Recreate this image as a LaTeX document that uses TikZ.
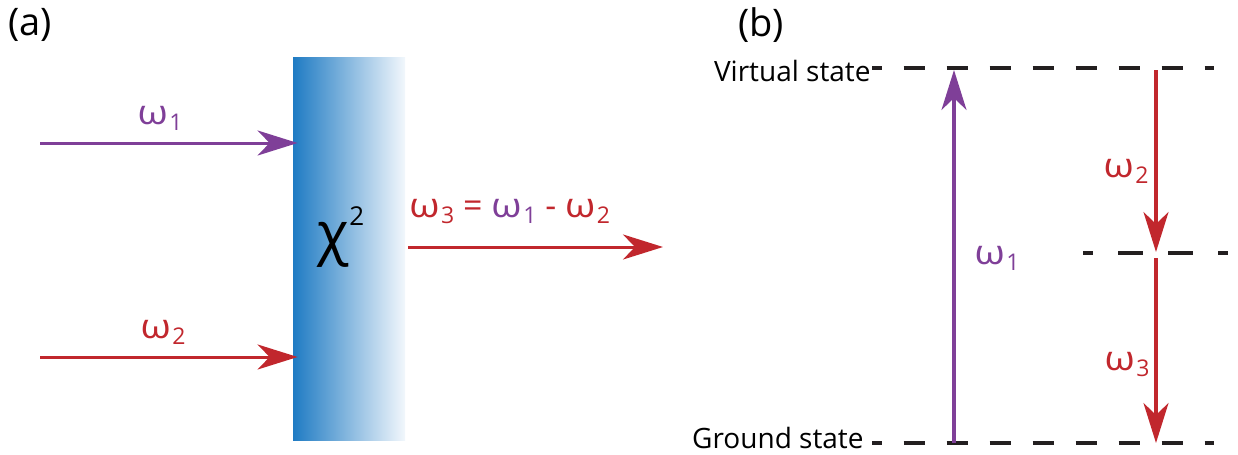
\documentclass[tikz,border=0pt]{standalone}
\usepackage{fontspec}
\setmainfont{Open Sans}
\usetikzlibrary{arrows.meta, positioning, calc}
\definecolor{pumppurple}{HTML}{7F3F98}
\definecolor{idlerred}{HTML}{C1272D}
\definecolor{levelgray}{HTML}{231F20}
\definecolor{crysblue}{HTML}{1F7BC3}
\definecolor{crysmid}{HTML}{86B8E0}
\definecolor{cryspale}{HTML}{F2F7FC}
\newcommand{\om}[1]{\scalebox{1.15}[1]{ω}\kern0.8pt\raisebox{-3pt}{\fontsize{11.5}{13}\selectfont #1}}

\begin{document}
\begin{tikzpicture}[x=0.5pt, y=-0.5pt,
  >={Stealth[length=20pt, width=12.5pt, inset=6pt]},
  every node/.style={inner sep=0pt},
  panellabel/.style={font=\fontsize{19}{22}\selectfont, text=black},
  freqlabel/.style={font=\fontsize{17}{20}\selectfont, anchor=base},
  statelabel/.style={font=\fontsize{14}{17}\selectfont, text=black, anchor=base east},
  beam/.style={line width=1.5pt, ->},
  level/.style={levelgray, line width=1.7pt},
]

% Frame
\useasboundingbox (0,0) rectangle (1238,455);

% Panel labels
\node[panellabel] (pa) at (30,25) {(a)};
\node[panellabel] (pb) at (761,25) {(b)};

% Nonlinear crystal
\node[minimum width=56pt, minimum height=191.5pt, left color=crysblue, middle color=crysmid, right color=cryspale] (crystal) at (349,248.5) {};
\node[font=\fontsize{29}{32}\selectfont, anchor=base] (chi) at (341,253) {χ\raisebox{14pt}{\fontsize{13}{15}\selectfont 2}};

% Input beams
\coordinate (in1) at (40,143);
\coordinate (in2) at (40,357);
\draw[beam, pumppurple] (in1) -- ([xshift=2.5pt]crystal.west |- in1);
\draw[beam, idlerred] (in2) -- ([xshift=2.5pt]crystal.west |- in2);
\node[freqlabel, text=pumppurple] (w1a) at (160,124) {\om{1}};
\node[freqlabel, text=idlerred] (w2a) at (163,338) {\om{2}};

% Output beam
\coordinate (out) at (663,247);
\draw[beam, idlerred] ([xshift=1.5pt]crystal.east |- out) -- (out);
\node[freqlabel, anchor=base west, text=idlerred] (w3a) at (409,217) {\om{3} = \textcolor{pumppurple}{\om{1}} - \om{2}};

% Energy levels
\coordinate (vL) at (872,68);
\coordinate (vR) at (1214,68);
\coordinate (mL) at (1083,253);
\coordinate (mR) at (1228,253);
\coordinate (gL) at (872,443);
\coordinate (gR) at (1214,443);
\draw[level, dash pattern=on 10.75pt off 10.75pt, dash phase=5.75pt] (vL) -- (vR);
\draw[level, dash pattern=on 12.5pt off 12.5pt, dash phase=7.5pt] (mL) -- (mR);
\draw[level, dash pattern=on 10.75pt off 10.75pt, dash phase=5.75pt] (gL) -- (gR);
\node[statelabel] (virt) at (871,81) {Virtual state};
\node[statelabel] (gnd) at (864,448) {Ground state};

% Transitions
\coordinate (up) at (954,0);
\coordinate (dn) at (1156,0);
\draw[beam, pumppurple, line width=1.6pt] (gL -| up) -- ([yshift=-1pt]vL -| up);
\draw[beam, idlerred, line width=1.6pt] ([yshift=-1pt]vL -| dn) -- ([yshift=0.5pt]mL -| dn);
\draw[beam, idlerred, line width=1.6pt] ([yshift=-2.5pt]mL -| dn) -- (gL -| dn);
\node[freqlabel, text=pumppurple] (w1b) at (997,264) {\om{1}};
\node[freqlabel, text=idlerred] (w2b) at (1126,177) {\om{2}};
\node[freqlabel, text=idlerred] (w3b) at (1127,370) {\om{3}};

\end{tikzpicture}
\end{document}
